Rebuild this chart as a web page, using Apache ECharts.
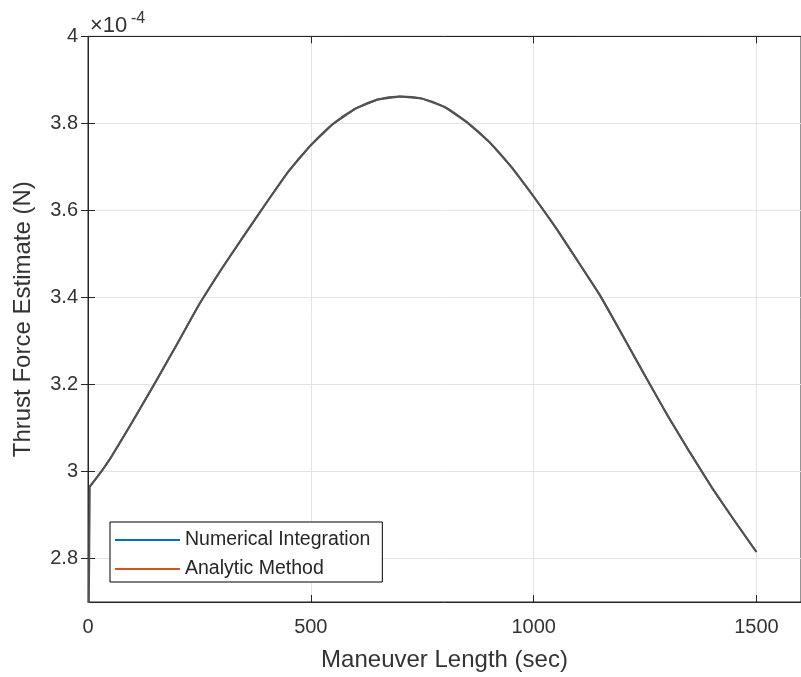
<!DOCTYPE html>
<html>
<head>
<meta charset="utf-8">
<script src="https://cdn.jsdelivr.net/npm/echarts@6/dist/echarts.min.js"></script>
<style>
html,body{margin:0;padding:0;background:#fff;}
#chart{width:801px;height:677px;}
</style>
</head>
<body>
<div id="chart"></div>
<script>
// Maneuver length (sec)
const numX = [0, 4, 30, 50, 100, 150, 200, 250, 300, 350, 400, 450, 500, 550, 600, 650, 700, 750, 800, 850, 900, 950, 1000, 1050, 1100, 1150, 1200, 1250, 1300, 1350, 1400, 1450, 1500];
// Thrust force estimate (x1e-4 N)
const numY = [2.45, 2.965, 3.0, 3.03, 3.115, 3.203, 3.293, 3.385, 3.466, 3.542, 3.617, 3.69, 3.75, 3.799, 3.834, 3.855, 3.862, 3.857, 3.838, 3.803, 3.758, 3.70, 3.632, 3.56, 3.482, 3.403, 3.312, 3.22, 3.13, 3.045, 2.963, 2.888, 2.815];
const anaX = [4, 30, 50, 100, 150, 200, 250, 300, 350, 400, 450, 500, 550, 600, 650, 700, 750, 800, 850, 900, 950, 1000, 1050, 1100, 1150, 1200, 1250, 1300, 1350, 1400, 1450, 1500];
const anaY = [2.965, 3.0, 3.03, 3.115, 3.203, 3.293, 3.385, 3.466, 3.542, 3.617, 3.69, 3.75, 3.799, 3.834, 3.855, 3.862, 3.857, 3.838, 3.803, 3.758, 3.70, 3.632, 3.56, 3.482, 3.403, 3.312, 3.22, 3.13, 3.045, 2.963, 2.888, 2.815];
const xTicks = [0, 500, 1000, 1500];
const yTicks = [2.8, 3, 3.2, 3.4, 3.6, 3.8, 4];
const seriesNames = ['Numerical Integration', 'Analytic Method'];
const legendColors = ['#0072BD', '#D95319'];
const xTitle = 'Maneuver Length (sec)';
const yTitle = 'Thrust Force Estimate (N)';

const FONT = '"Liberation Sans", Arial, Helvetica, sans-serif';
const AX = '#262626';
const GRIDC = '#e3e3e3';

const chart = echarts.init(document.getElementById('chart'), null, {renderer: 'canvas'});

function pairs(xs, ys) { return xs.map((x, i) => [x, ys[i]]); }

const lineCol = '#525252';

const option = {
  animation: false,
  backgroundColor: '#fff',
  grid: {left: 88, top: 36.4, width: 717, height: 567.6, show: true, borderColor: AX, borderWidth: 1, backgroundColor: 'transparent'},
  xAxis: [{
    type: 'value', min: 0, max: 1600, position: 'bottom',
    name: xTitle, nameLocation: 'middle', nameGap: 46,
    nameTextStyle: {fontFamily: FONT, fontSize: 24, color: '#333'},
    axisLine: {show: true, lineStyle: {color: AX, width: 1}},
    axisTick: {show: true, inside: true, length: 7, customValues: xTicks, lineStyle: {color: AX}},
    axisLabel: {customValues: xTicks, margin: 15, fontFamily: FONT, fontSize: 20, color: '#333',
      formatter: v => String(v)},
    splitLine: {show: true, lineStyle: {color: GRIDC, width: 1}}
  }, {
    type: 'value', min: 0, max: 1600, position: 'top',
    axisLine: {show: true, lineStyle: {color: AX, width: 1}},
    axisTick: {show: true, inside: true, length: 7, customValues: xTicks, lineStyle: {color: AX}},
    axisLabel: {show: false},
    splitLine: {show: false}
  }],
  yAxis: [{
    type: 'value', min: 2.7, max: 4, position: 'left',
    name: yTitle, nameLocation: 'middle', nameGap: 53, nameRotate: 90,
    nameTextStyle: {fontFamily: FONT, fontSize: 24, color: '#333'},
    axisLine: {show: true, lineStyle: {color: AX, width: 1}},
    axisTick: {show: true, inside: true, length: 7, customValues: yTicks, lineStyle: {color: AX}},
    axisLabel: {customValues: yTicks, margin: 10, fontFamily: FONT, fontSize: 20, color: '#333',
      formatter: v => String(Math.round(v * 10) / 10)},
    splitLine: {show: true, lineStyle: {color: GRIDC, width: 1}}
  }, {
    type: 'value', min: 2.7, max: 4, position: 'right',
    axisLine: {show: true, lineStyle: {color: AX, width: 1}},
    axisTick: {show: true, inside: true, length: 7, customValues: yTicks, lineStyle: {color: AX}},
    axisLabel: {show: false},
    splitLine: {show: false}
  }],
  legend: {
    show: true,
    orient: 'vertical', left: 110, top: 522,
    padding: [7, 12, 2, 5], itemGap: 7, itemWidth: 65, itemHeight: 2,
    icon: 'rect',
    borderColor: '#000', borderWidth: 1, backgroundColor: '#fff',
    textStyle: {fontFamily: FONT, fontSize: 19.5, color: '#262626', lineHeight: 22},
    data: seriesNames.map((n, i) => ({name: n, itemStyle: {color: legendColors[i]}}))
  },
  graphic: [
    {type: 'text', left: 90, top: 15, z: 10, style: {text: '\u00d710', font: '22px ' + FONT, fill: '#333'}},
    {type: 'text', left: 131, top: 11, z: 10, style: {text: '-4', font: '16px ' + FONT, fill: '#333'}}
  ],
  series: [{
    name: seriesNames[0], type: 'line', xAxisIndex: 0, yAxisIndex: 0,
    data: pairs(numX, numY), showSymbol: false, symbol: 'none', clip: true,
    color: legendColors[0],
    lineStyle: {color: lineCol, width: 2}, z: 3
  }, {
    name: seriesNames[1], type: 'line', xAxisIndex: 0, yAxisIndex: 0,
    data: pairs(anaX, anaY), showSymbol: false, symbol: 'none', clip: true,
    smooth: 0.3,
    color: legendColors[1],
    lineStyle: {color: lineCol, width: 2}, z: 4
  }]
};
chart.setOption(option);
</script>
</body>
</html>
